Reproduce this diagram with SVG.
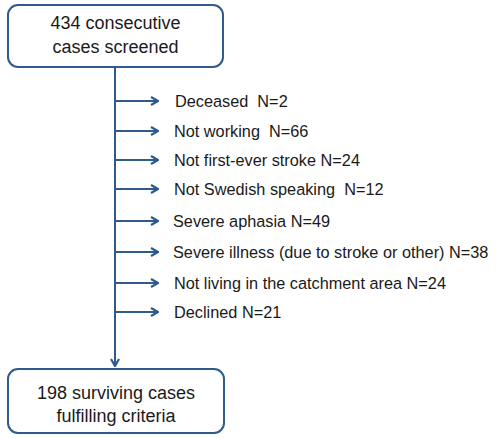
<svg xmlns="http://www.w3.org/2000/svg" width="496" height="438" viewBox="0 0 496 438">
<style>
.box{fill:#fff;stroke:#2e5a8c;stroke-width:2}
.ln{stroke:#2e5a8c;stroke-width:2;fill:none}
.t{font-family:"Liberation Sans",Arial,sans-serif;fill:#1a1a1a}
.bt{font-size:18px;text-anchor:middle}
.lt{font-size:16.3px;white-space:pre}
</style>
<defs>
<marker id="ah" viewBox="0 0 10 10" refX="9" refY="5" markerWidth="5" markerHeight="5" orient="auto" markerUnits="strokeWidth">
<path d="M2,1 L9,5 L2,9" fill="none" stroke="#2e5a8c" stroke-width="2.2" stroke-linejoin="miter"/>
</marker>
</defs>
<g id="connectors">
<line class="ln" x1="115" y1="67" x2="115" y2="366" marker-end="url(#ah)"/>
<line class="ln" x1="115" y1="101" x2="158" y2="101" marker-end="url(#ah)"/>
<line class="ln" x1="115" y1="131" x2="158" y2="131" marker-end="url(#ah)"/>
<line class="ln" x1="115" y1="160" x2="158" y2="160" marker-end="url(#ah)"/>
<line class="ln" x1="115" y1="189" x2="158" y2="189" marker-end="url(#ah)"/>
<line class="ln" x1="115" y1="221" x2="158" y2="221" marker-end="url(#ah)"/>
<line class="ln" x1="115" y1="252" x2="158" y2="252" marker-end="url(#ah)"/>
<line class="ln" x1="115" y1="283" x2="158" y2="283" marker-end="url(#ah)"/>
<line class="ln" x1="115" y1="312" x2="158" y2="312" marker-end="url(#ah)"/>
</g>
<g id="top">
<rect class="box" x="8" y="5" width="215" height="62" rx="10"/>
<text class="t bt" x="115.5" y="29">434 consecutive</text>
<text class="t bt" x="115.5" y="53">cases screened</text>
</g>
<g id="exclusions">
<text class="t lt" x="175" y="107">Deceased  N=2</text>
<text class="t lt" x="174" y="137">Not working  N=66</text>
<text class="t lt" x="174" y="166">Not first-ever stroke N=24</text>
<text class="t lt" x="174" y="195">Not Swedish speaking  N=12</text>
<text class="t lt" x="173" y="227">Severe aphasia N=49</text>
<text class="t lt" x="173" y="258">Severe illness (due to stroke or other) N=38</text>
<text class="t lt" x="174" y="289">Not living in the catchment area N=24</text>
<text class="t lt" x="174" y="318">Declined N=21</text>
</g>
<g id="bottom">
<rect class="box" x="8" y="369" width="216" height="64" rx="10"/>
<text class="t bt" x="116" y="399">198 surviving cases</text>
<text class="t bt" x="116" y="422">fulfilling criteria</text>
</g>
</svg>
